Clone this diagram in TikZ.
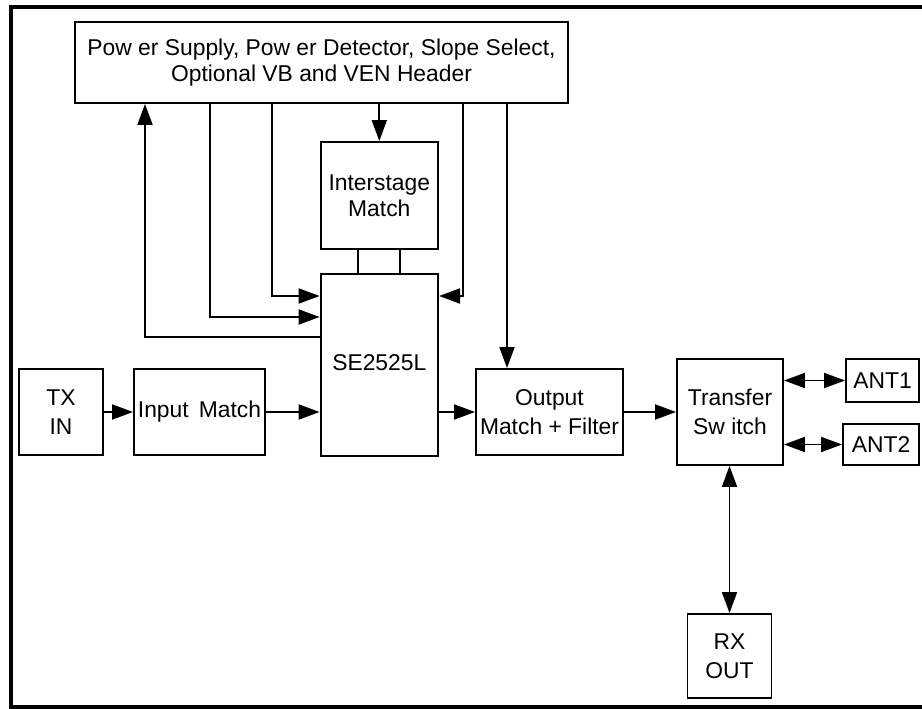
\documentclass[tikz,border=0pt]{standalone}
\usepackage{fontspec}
\setmainfont{Liberation Sans}
\usetikzlibrary{arrows.meta}
\tikzset{
  blk/.style={draw,line width=1.1pt,inner sep=0pt,align=center,
    font=\fontsize{13}{16.5}\selectfont},
  wire/.style={line width=1.1pt},
  arr/.style={wire,-{Triangle[length=0.42cm,width=0.3cm]}},
  dbl/.style={wire,{Triangle[length=0.42cm,width=0.3cm]}-{Triangle[length=0.42cm,width=0.3cm]}}
}

\begin{document}
\begin{tikzpicture}[x=0.02cm,y=-0.02cm]
\useasboundingbox (0,0) rectangle (922,709);

% frame
\draw[line width=2.2pt] (922,7) -- (11,7) -- (11,707) -- (922,707);

% blocks
\node[blk,minimum width=9.86cm,minimum height=1.62cm,font=\fontsize{13}{14.4}\selectfont] (pwr) at (321.5,62.5)
  {Pow er Supply, Pow er Detector, Slope Select,\\Optional VB and VEN Header};
\node[blk,minimum width=2.35cm,minimum height=2.14cm,font=\fontsize{13}{14.8}\selectfont] (ism) at (379.3,195.5) {Interstage\\Match};
\node[blk,minimum width=2.35cm,minimum height=3.64cm,anchor=north] (se) at (379.3,273) {};
\node[font=\fontsize{13}{16}\selectfont] (selbl) at (379.3,363) {SE2525L};
\node[blk,minimum width=1.68cm,minimum height=1.72cm] (txin) at (61,412) {TX\\IN};
\node[blk,minimum width=2.62cm,minimum height=1.72cm] (inm) at (199.5,412) {Input\, Match};
\node[blk,minimum width=2.94cm,minimum height=1.72cm] (outm) at (549.5,412) {Output\\Match + Filter};
\node[blk,minimum width=2.12cm,minimum height=2.12cm] (trsw) at (730,412) {Transfer\\Sw itch};
\node[blk,minimum width=1.46cm,minimum height=0.86cm] (ant1) at (882.5,380.5) {ANT1};
\node[blk,minimum width=1.52cm,minimum height=0.82cm] (ant2) at (881,444.5) {ANT2};
\node[blk,minimum width=1.68cm,minimum height=1.68cm] (rxout) at (729.5,656) {RX\\OUT};

% tap points
\coordinate (k1) at (145,337);
\coordinate (k2) at (210,317);
\coordinate (k3) at (272,296);
\coordinate (k4) at (463,296);
\coordinate (k5) at (507,0);
\coordinate (j1) at (358,0);
\coordinate (j2) at (400,0);

% control lines
\draw[arr] (se.west |- k1) -| (k1 |- pwr.south);
\draw[arr] (k2 |- pwr.south) |- (se.west |- k2);
\draw[arr] (k3 |- pwr.south) |- (se.west |- k3);
\draw[arr] (k4 |- pwr.south) |- (se.east |- k4);
\draw[arr] (pwr.south -| ism.north) -- (ism.north);
\draw[arr] (k5 |- pwr.south) -- (k5 |- outm.north);
\draw[wire] (j1 |- ism.south) -- (j1 |- se.north);
\draw[wire] (j2 |- ism.south) -- (j2 |- se.north);

% rf path
\draw[arr] (txin) -- (inm);
\draw[arr] (inm.east) -- (inm.east -| se.west);
\draw[arr] (se.east |- outm.west) -- (outm.west);
\draw[arr] (outm) -- (trsw);
\draw[dbl] (trsw.east |- ant1.west) -- (ant1.west);
\draw[dbl] (trsw.east |- ant2.west) -- (ant2.west);
\draw[dbl] (rxout.north |- trsw.south) -- (rxout.north);

\end{tikzpicture}
\end{document}
